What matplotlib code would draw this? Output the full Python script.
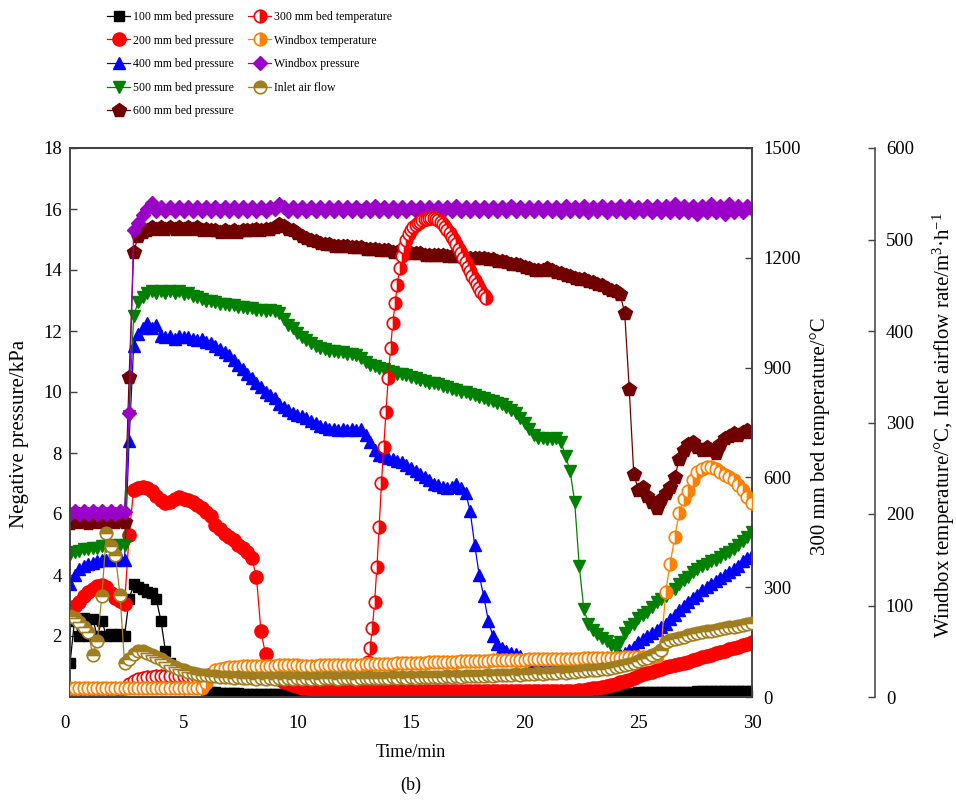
import numpy as np
import matplotlib
matplotlib.use("Agg")
import matplotlib.pyplot as plt

plt.rcParams["font.family"] = ["Liberation Serif", "DejaVu Serif"]
plt.rcParams["mathtext.fontset"] = "custom"
plt.rcParams["mathtext.rm"] = "Liberation Serif"
plt.rcParams["mathtext.it"] = "Liberation Serif:italic"

# ---- data, logger sampling every 0.2 min ----
time_min = np.arange(151) * 0.2

p100 = [1.1, 2.5, 2.0, 2.6, 2.0, 2.55, 2.0, 2.5, 2.0, 2.05,
        2.0, 2.05, 2.0, 3.2, 3.7, 3.6, 3.55, 3.45, 3.4, 3.2,
        2.5, 1.5, 1.1, 0.7, 0.5, 0.4, 0.35, 0.3, 0.3, 0.28,
        0.22, 0.18, 0.15, 0.14, 0.13, 0.12, 0.12, 0.12, 0.11, 0.11,
        0.1, 0.11, 0.1, 0.11, 0.1, 0.11, 0.1, 0.11, 0.1, 0.11,
        0.1, 0.11, 0.1, 0.11, 0.1, 0.11, 0.1, 0.11, 0.1, 0.11,
        0.1, 0.11, 0.1, 0.11, 0.1, 0.11, 0.1, 0.11, 0.1, 0.11,
        0.1, 0.11, 0.1, 0.11, 0.1, 0.11, 0.1, 0.11, 0.1, 0.11,
        0.1, 0.11, 0.1, 0.11, 0.1, 0.11, 0.1, 0.11, 0.1, 0.11,
        0.1, 0.11, 0.1, 0.11, 0.1, 0.11, 0.1, 0.11, 0.1, 0.11,
        0.1, 0.11, 0.1, 0.11, 0.1, 0.11, 0.1, 0.11, 0.1, 0.11,
        0.1, 0.11, 0.11, 0.11, 0.12, 0.12, 0.12, 0.12, 0.12, 0.12,
        0.12, 0.13, 0.13, 0.14, 0.14, 0.15, 0.15, 0.15, 0.16, 0.16,
        0.16, 0.17, 0.17, 0.17, 0.18, 0.18, 0.18, 0.18, 0.19, 0.19,
        0.19, 0.19, 0.2, 0.2, 0.2, 0.2, 0.2, 0.21, 0.21, 0.21,
        0.21]

p200 = [2.8, 3.0, 3.1, 3.3, 3.45, 3.55, 3.65, 3.67, 3.6, 3.4,
        3.25, 3.15, 3.05, 5.3, 6.8, 6.85, 6.9, 6.85, 6.75, 6.6,
        6.45, 6.35, 6.4, 6.5, 6.55, 6.5, 6.45, 6.4, 6.3, 6.2,
        6.05, 5.95, 5.65, 5.5, 5.35, 5.25, 5.15, 5.0, 4.9, 4.75,
        4.55, 3.95, 2.15, 1.4, 1.0, 0.75, 0.6, 0.5, 0.45, 0.4,
        0.35, 0.3, 0.28, 0.25, 0.23, 0.22, 0.22, 0.21, 0.21, 0.2,
        0.2, 0.21, 0.2, 0.21, 0.2, 0.21, 0.2, 0.21, 0.2, 0.21,
        0.2, 0.21, 0.2, 0.21, 0.2, 0.21, 0.2, 0.21, 0.2, 0.21,
        0.2, 0.21, 0.2, 0.21, 0.2, 0.21, 0.2, 0.21, 0.2, 0.21,
        0.2, 0.21, 0.2, 0.21, 0.2, 0.21, 0.2, 0.21, 0.2, 0.21,
        0.2, 0.21, 0.2, 0.21, 0.2, 0.21, 0.2, 0.21, 0.2, 0.21,
        0.2, 0.21, 0.22, 0.24, 0.26, 0.28, 0.31, 0.34, 0.37, 0.4,
        0.44, 0.48, 0.52, 0.56, 0.62, 0.7, 0.74, 0.78, 0.83, 0.88,
        0.93, 0.98, 1.02, 1.05, 1.08, 1.12, 1.16, 1.2, 1.25, 1.3,
        1.34, 1.38, 1.43, 1.48, 1.52, 1.56, 1.6, 1.65, 1.7, 1.75,
        1.8]

p400 = [3.7, 4.0, 4.2, 4.3, 4.35, 4.4, 4.45, 4.5, 4.5, 4.55,
        4.5, 4.55, 4.5, 8.4, 11.5, 11.9, 12.1, 12.25, 12.1, 12.2,
        11.85, 11.8, 11.85, 11.75, 11.85, 11.8, 11.8, 11.75, 11.7, 11.75,
        11.65, 11.6, 11.5, 11.4, 11.3, 11.2, 11.05, 10.9, 10.75, 10.6,
        10.45, 10.3, 10.15, 10.0, 9.9, 9.8, 9.6, 9.5, 9.4, 9.3,
        9.25, 9.2, 9.15, 9.05, 9.0, 8.9, 8.85, 8.8, 8.8, 8.75,
        8.8, 8.75, 8.8, 8.75, 8.8, 8.6, 8.35, 8.1, 7.95, 7.9,
        7.85, 7.8, 7.75, 7.7, 7.6, 7.5, 7.4, 7.3, 7.2, 7.1,
        7.0, 6.95, 6.9, 6.85, 6.9, 7.0, 6.85, 6.7, 6.1, 5.0,
        4.0, 3.3, 2.5, 2.0, 1.75, 1.6, 1.5, 1.45, 1.4, 1.35,
        1.25, 1.2, 1.15, 1.1, 1.08, 1.06, 1.05, 1.05, 1.05, 1.05,
        1.05, 1.05, 1.05, 1.05, 1.06, 1.08, 1.1, 1.13, 1.17, 1.22,
        1.3, 1.38, 1.45, 1.55, 1.65, 1.8, 1.9, 2.0, 2.1, 2.2,
        2.3, 2.4, 2.55, 2.7, 2.85, 3.0, 3.1, 3.25, 3.35, 3.5,
        3.6, 3.7, 3.8, 3.9, 4.0, 4.1, 4.2, 4.3, 4.45, 4.55,
        4.65]

p500 = [4.7, 4.75, 4.8, 4.85, 4.85, 4.9, 4.9, 4.95, 4.95, 5.0,
        4.95, 5.0, 5.0, 9.2, 12.5, 12.95, 13.1, 13.25, 13.3, 13.25,
        13.3, 13.25, 13.3, 13.25, 13.3, 13.2, 13.25, 13.15, 13.1, 13.05,
        13.0, 13.0, 12.95, 12.9, 12.9, 12.85, 12.85, 12.8, 12.8, 12.75,
        12.75, 12.7, 12.7, 12.65, 12.7, 12.65, 12.6, 12.4, 12.2, 12.1,
        11.95, 11.8, 11.7, 11.6, 11.5, 11.45, 11.4, 11.35, 11.35, 11.3,
        11.3, 11.25, 11.25, 11.2, 11.1, 11.0, 10.9, 10.85, 10.8, 10.75,
        10.7, 10.65, 10.6, 10.6, 10.55, 10.5, 10.45, 10.4, 10.35, 10.3,
        10.3, 10.25, 10.2, 10.15, 10.1, 10.05, 10.0, 10.0, 9.95, 9.9,
        9.85, 9.8, 9.75, 9.7, 9.65, 9.6, 9.5, 9.4, 9.3, 9.15,
        9.0, 8.8, 8.6, 8.5, 8.5, 8.45, 8.45, 8.5, 8.35, 7.9,
        7.4, 6.4, 4.3, 2.9, 2.4, 2.2, 2.05, 1.95, 1.85, 1.7,
        1.6, 1.8, 2.1, 2.3, 2.4, 2.6, 2.7, 2.8, 2.95, 3.1,
        3.2, 3.3, 3.45, 3.55, 3.7, 3.85, 3.95, 4.1, 4.2, 4.3,
        4.35, 4.45, 4.5, 4.6, 4.7, 4.75, 4.85, 5.0, 5.1, 5.25,
        5.4]

p600 = [5.7, 5.8, 5.75, 5.8, 5.7, 5.8, 5.75, 5.8, 5.7, 5.8,
        5.75, 5.8, 5.75, 10.5, 14.6, 15.1, 15.25, 15.3, 15.4, 15.35,
        15.4, 15.35, 15.4, 15.35, 15.4, 15.35, 15.4, 15.35, 15.4, 15.3,
        15.35, 15.3, 15.3, 15.25, 15.3, 15.25, 15.3, 15.25, 15.3, 15.3,
        15.3, 15.35, 15.3, 15.35, 15.35, 15.4, 15.5, 15.45, 15.35, 15.3,
        15.2, 15.1, 15.05, 15.0, 14.95, 14.9, 14.85, 14.85, 14.8, 14.8,
        14.8, 14.8, 14.75, 14.75, 14.75, 14.7, 14.7, 14.7, 14.65, 14.65,
        14.65, 14.6, 14.6, 14.6, 14.55, 14.55, 14.55, 14.55, 14.5, 14.5,
        14.5, 14.5, 14.5, 14.45, 14.45, 14.45, 14.45, 14.4, 14.4, 14.4,
        14.4, 14.4, 14.35, 14.35, 14.3, 14.3, 14.25, 14.2, 14.2, 14.15,
        14.1, 14.05, 14.0, 14.0, 14.0, 14.05, 14.0, 13.95, 13.9, 13.85,
        13.8, 13.75, 13.7, 13.7, 13.65, 13.6, 13.55, 13.5, 13.4, 13.35,
        13.3, 13.2, 12.6, 10.1, 7.3, 6.8, 6.9, 6.6, 6.4, 6.2,
        6.5, 6.7, 6.9, 7.2, 7.8, 8.1, 8.3, 8.35, 8.2, 8.1,
        8.2, 8.1, 8.0, 8.3, 8.5, 8.55, 8.65, 8.6, 8.7, 8.75,
        8.7]

p_windbox = [6.0, 6.1, 6.0, 6.1, 6.0, 6.1, 6.0, 6.1, 6.0, 6.1,
             6.0, 6.1, 6.05, 9.3, 15.3, 15.55, 15.8, 16.0, 16.2, 15.95,
             16.05, 15.95, 16.05, 15.95, 16.05, 15.95, 16.05, 15.95, 16.05, 15.95,
             16.05, 15.95, 16.05, 15.95, 16.05, 15.95, 16.05, 15.95, 16.05, 15.95,
             16.05, 15.95, 16.05, 15.95, 16.05, 16.0, 16.15, 16.05, 15.95, 16.05,
             15.95, 16.05, 15.95, 16.05, 15.95, 16.05, 15.95, 16.05, 15.95, 16.05,
             15.95, 16.05, 15.95, 16.05, 15.95, 16.05, 15.95, 16.1, 15.95, 16.05,
             15.95, 16.05, 15.95, 16.05, 15.95, 16.05, 15.95, 16.05, 15.95, 16.05,
             15.95, 16.05, 15.95, 16.05, 15.95, 16.1, 15.95, 16.05, 15.95, 16.05,
             15.95, 16.05, 15.95, 16.05, 15.95, 16.05, 15.95, 16.1, 15.95, 16.05,
             15.95, 16.05, 15.95, 16.05, 15.95, 16.05, 15.95, 16.05, 15.9, 16.1,
             15.95, 16.05, 15.95, 16.1, 15.9, 16.05, 15.95, 16.1, 15.9, 16.05,
             15.95, 16.1, 15.9, 16.1, 15.9, 16.05, 15.95, 16.1, 15.9, 16.1,
             15.9, 16.1, 15.9, 16.15, 15.9, 16.1, 15.9, 16.1, 15.85, 16.1,
             15.9, 16.15, 15.9, 16.1, 15.85, 16.15, 15.9, 16.1, 15.9, 16.1,
             16.0]

t_windbox = [10, 10, 10, 10, 10, 10, 10, 10, 10, 10,
             10, 10, 10, 10, 10, 10, 10, 10, 10, 10,
             10, 10, 10, 10, 10, 10, 10, 10, 10, 10,
             15, 23, 29, 31, 32, 33, 33, 33, 33.5, 33.5,
             33.5, 33.5, 34, 34, 34, 34, 34.5, 34.5, 34.5, 34.5,
             34.5, 34, 34, 34, 34, 34.5, 34.5, 35, 35, 35,
             35, 35, 35.5, 35.5, 35.5, 36, 36, 36, 36, 36.5,
             36.5, 36.5, 37, 37, 37, 37, 37.5, 37.5, 37.5, 38,
             38, 38, 38, 38.5, 38.5, 38.5, 39, 39, 39, 39,
             39.5, 39.5, 39.5, 40, 40, 40, 40, 40.5, 40.5, 40.5,
             40.5, 41, 41, 41, 41, 41.5, 41.5, 41.5, 41.5, 42,
             42, 42, 42, 42.5, 42.5, 42.5, 42.5, 43, 43, 43,
             43, 43, 43.5, 43.5, 43.5, 43.5, 44, 44, 44, 44.5,
             51, 115, 145, 175, 201, 216, 225, 237, 246, 249,
             251, 251, 249, 246, 243, 240, 237, 232, 226, 219,
             212]

air_flow = [88, 86, 82, 77, 71, 46, 61, 110, 179, 165,
            155, 111, 37, 41, 47, 50, 50, 48, 46, 44,
            41, 38, 35, 33, 31, 29, 27, 26, 25, 24,
            24, 23, 23, 22, 22, 22, 21, 22, 21, 21,
            21, 20, 21, 20, 21, 20, 21, 20, 21, 20,
            21, 20, 21, 20, 21, 20, 21, 21, 21, 20,
            21, 21, 21, 20, 21, 21, 21, 21, 21, 21,
            21, 22, 21, 22, 21, 22, 21, 22, 22, 22,
            22, 22, 22, 23, 22, 23, 22, 23, 23, 23,
            23, 23, 24, 23, 24, 24, 24, 24, 25, 24,
            25, 25, 25, 26, 25, 26, 26, 26, 27, 26,
            27, 27, 28, 28, 29, 29, 30, 31, 31, 32,
            33, 34, 35, 36, 37, 39, 41, 43, 46, 48,
            51, 60, 62, 63, 64, 66, 68, 69, 70, 71,
            72, 72, 73, 74, 75, 76, 77, 78, 79, 80,
            81]

# 300 mm bed temperature: 0.2 min samples to 13.0 min, then 0.1 min samples
t300_time = np.concatenate([np.arange(66) * 0.2, 13.1 + np.arange(53) * 0.1])
t300 = [20, 20, 20, 20, 20, 20, 20, 20, 20, 20,
        20, 22, 25, 35, 45, 50, 53, 55, 56, 57,
        57, 58, 58, 58, 58, 57, 57, 56, 56, 56,
        58, 62, 68, 72, 74, 75, 75, 75, 75, 75,
        75, 75, 75, 75, 75, 75, 75, 75, 75, 75,
        75, 75, 75, 75, 75, 75, 75, 75, 75, 75,
        75, 75, 75, 75, 75, 80,
        95, 134, 188, 260, 355, 465, 584, 683, 779, 872,
        953, 1022, 1076, 1126, 1172, 1205, 1230, 1250, 1265, 1276,
        1284, 1290, 1295, 1299, 1302, 1305, 1307, 1308, 1309, 1309,
        1306, 1302, 1297, 1291, 1284, 1276, 1267, 1258, 1249, 1237,
        1225, 1213, 1200, 1188, 1175, 1163, 1151, 1139, 1128, 1117,
        1107, 1098, 1090]

INK = "#404040"
RED, ORANGE, OLIVE = "#FF0000", "#FF8000", "#A07D1E"

fig = plt.figure(figsize=(9.56, 8), dpi=100)
ax = fig.add_axes([70 / 956, 103 / 800, 682 / 956, 549 / 800])
ax2 = ax.twinx()
ax3 = ax.twinx()
ax3.spines["right"].set_position(("axes", 1.18))

lw = 0.9
h100, = ax.plot(time_min, p100, "-s", color="black", ms=7, lw=lw, label="100 mm bed pressure")
h200, = ax.plot(time_min, p200, "-o", color=RED, ms=9.5, lw=lw, label="200 mm bed pressure")
h400, = ax.plot(time_min, p400, "-^", color="#0000FF", ms=9, lw=lw, label="400 mm bed pressure")
h500, = ax.plot(time_min, p500, "-v", color="#008000", ms=9, lw=lw, label="500 mm bed pressure")
h600, = ax.plot(time_min, p600, "-p", color="#700000", ms=10, lw=lw, label="600 mm bed pressure")
hwp, = ax.plot(time_min, p_windbox, "-D", color="#9B00C8", ms=7, lw=lw, label="Windbox pressure")

h300, = ax2.plot(t300_time, t300, "-o", color=RED, ms=9, lw=lw, fillstyle="right",
                 markerfacecoloralt="white", mew=1.2, label="300 mm bed temperature")

hwt, = ax3.plot(time_min, t_windbox, "-o", color=ORANGE, ms=9, lw=lw, fillstyle="right",
                markerfacecoloralt="white", mew=1.2, label="Windbox temperature")
haf, = ax3.plot(time_min, air_flow, "-o", color=OLIVE, ms=9, lw=lw, fillstyle="top",
                markerfacecoloralt="white", mew=1.2, label="Inlet air flow")

ax.set_xlim(0, 30)
ax.set_ylim(0, 18)
ax.set_xticks(range(0, 31, 5))
ax.set_yticks(range(2, 19, 2))
ax2.set_ylim(0, 1500)
ax2.set_yticks(range(0, 1501, 300))
ax3.set_ylim(0, 600)
ax3.set_yticks(range(0, 601, 100))

for a in (ax, ax2, ax3):
    for s in a.spines.values():
        s.set_color(INK)
        s.set_linewidth(1.1)
    a.tick_params(direction="in", length=5, width=1, color=INK, labelsize=13.5)
ax.tick_params(axis="y", pad=6)
ax.tick_params(axis="x", pad=13)
ax2.tick_params(axis="y", pad=8)
ax3.tick_params(axis="y", pad=8)
ax3.spines["left"].set_visible(False)
ax.get_xticklabels()[0].set_ha("right")

ax.set_xlabel("Time/min", fontsize=13)
ax.xaxis.set_label_coords(0.5, -0.085)
ax.set_ylabel("Negative pressure/kPa", fontsize=15)
ax.yaxis.set_label_coords(-0.060, 0.48)
ax2.set_ylabel("300 mm bed temperature/°C", fontsize=15)
ax2.yaxis.set_label_coords(1.085, 0.475)
ax3.set_ylabel("Windbox temperature/°C, Inlet airflow rate/m$^3$·h$^{-1}$", fontsize=15)
ax3.yaxis.set_label_coords(1.262, 0.495)
fig.text(0.5 * (70 + 752) / 956, 1 - 785 / 800, "(b)", ha="center", va="center", fontsize=13)

handles = [h100, h200, h400, h500, h600, h300, hwt, hwp, haf]
fig.legend(handles=handles, labels=[h.get_label() for h in handles], ncol=2,
           loc="upper left", bbox_to_anchor=(107 / 956, 1 - 11 / 800), frameon=False,
           fontsize=8.5, handlelength=1.95, handletextpad=0.25, columnspacing=1.2,
           labelspacing=0.98, borderaxespad=0, borderpad=0, markerscale=1.0)

fig.savefig("out.png", dpi=100, facecolor="white")
